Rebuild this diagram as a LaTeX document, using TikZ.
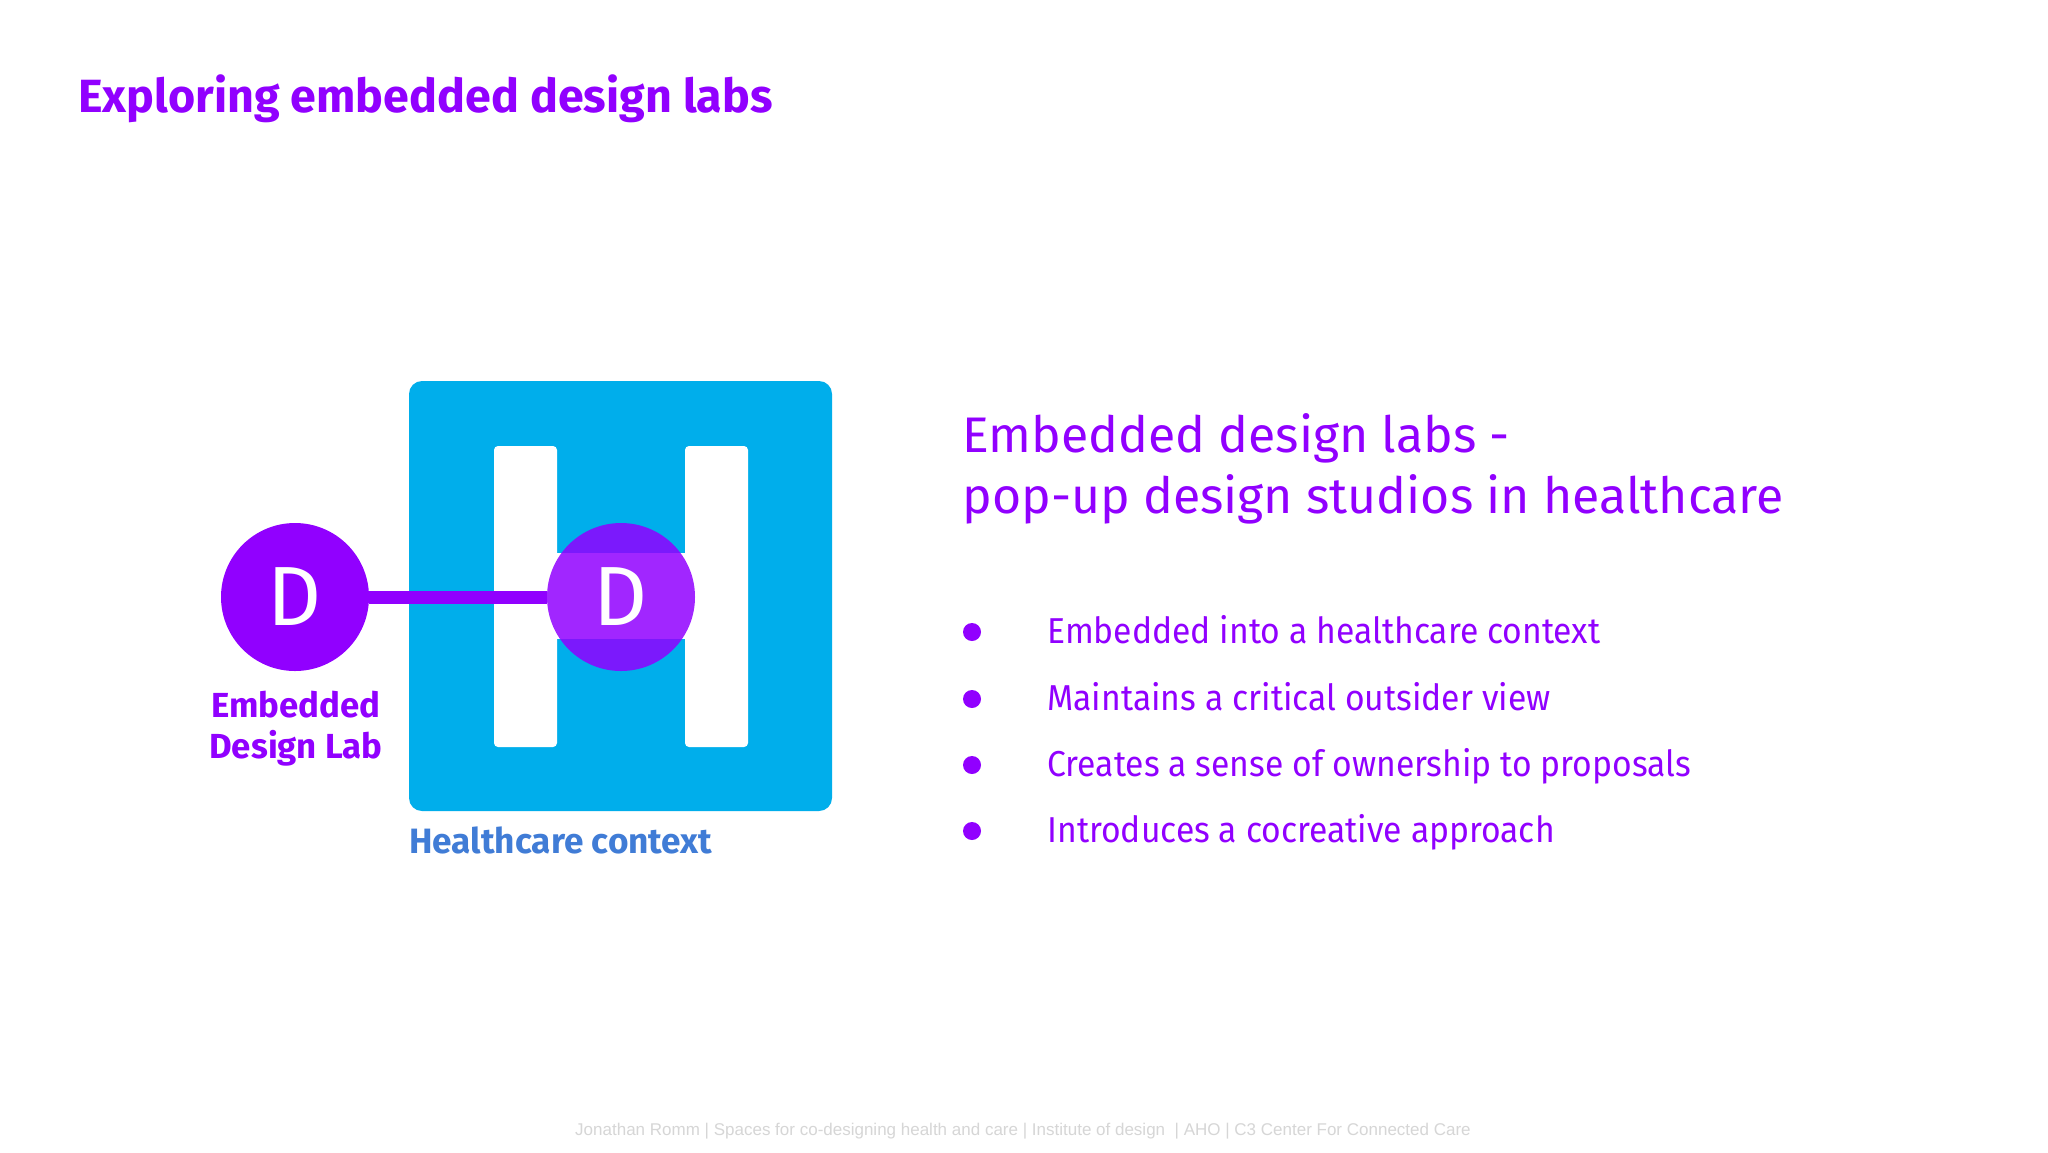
\documentclass[tikz,border=0pt]{standalone}
\usepackage{fontspec}
\setmainfont{Fira Sans}
\newfontfamily\condfont[FakeStretch=0.935]{Fira Sans}
\newfontfamily\footfont{Liberation Sans}
\definecolor{dpurple}{RGB}{145,0,255}
\definecolor{hblue}{RGB}{0,174,235}
\definecolor{lblue}{RGB}{64,124,214}
\definecolor{fgray}{RGB}{214,214,214}
\begin{document}
\begin{tikzpicture}[x=0.5pt,y=-0.5pt,
  lbl/.style={inner sep=0pt, text=dpurple},
  dcircle/.style={circle, inner sep=0pt, minimum size=74pt, fill=dpurple, text=white, font=\fontsize{42pt}{42pt}\selectfont},
  hbar/.style={fill=white, rounded corners=2pt},
  bullet/.style={circle, inner sep=0pt, minimum size=9pt, fill=dpurple},
  btext/.style={anchor=base west, inner sep=0pt, text=dpurple, font=\condfont\fontsize{18pt}{18pt}\selectfont}]
\useasboundingbox[fill=white] (0,0) rectangle (2048,1152);
% title
\node[lbl, anchor=base west, font=\fontsize{23.3pt}{23.3pt}\selectfont\bfseries] (title) at (78,112) {Exploring embedded design labs};
% healthcare block
\fill[hblue, rounded corners=6.5pt] (409,381) rectangle (832,811);
\fill[hbar] (494,446) rectangle (557,747);
\fill[hbar] (685,446) rectangle (748,747);
\fill[white] (555,553) rectangle (687,639);
\node[dcircle] (dl) at (295,597) {D};
\node[dcircle, fill opacity=0.85, text opacity=1] (dr) at (621,597) {D};
\draw[dpurple, line width=6.5pt] (dl.east) -- (dr.west);
\node[lbl, align=center, anchor=base, font=\fontsize{17.4pt}{20.5pt}\selectfont\bfseries] (dlab) at (296,758) {Embedded\\Design Lab};
\node[anchor=base west, inner sep=0pt, text=lblue, font=\fontsize{17.6pt}{17.6pt}\selectfont\bfseries] (hlab) at (409,853) {Healthcare context};
% heading
\node[lbl, anchor=base west, font=\fontsize{25pt}{25pt}\selectfont] (h1) at (962,452) {Embedded design labs -};
\node[lbl, anchor=base west, font=\fontsize{25pt}{25pt}\selectfont] (h2) at (962,513) {pop-up design studios in healthcare};
% bullets
\node[bullet] (b1) at (972,632) {};
\node[bullet] (b2) at (972,699) {};
\node[bullet] (b3) at (972,765) {};
\node[bullet] (b4) at (972,831) {};
\node[btext] (t1) at (1047,643) {Embedded into a healthcare context};
\node[btext] (t2) at (1047,710) {Maintains a critical outsider view};
\node[btext] (t3) at (1047,776) {Creates a sense of ownership to proposals};
\node[btext] (t4) at (1047,842) {Introduces a cocreative approach};
% footer
\node[anchor=base, inner sep=0pt, text=fgray, font=\footfont\fontsize{8.5pt}{8.5pt}\selectfont] (foot) at (1023,1135) {Jonathan Romm | Spaces for co-designing health and care | Institute of design \ | AHO | C3 Center For Connected Care};
\end{tikzpicture}
\end{document}
